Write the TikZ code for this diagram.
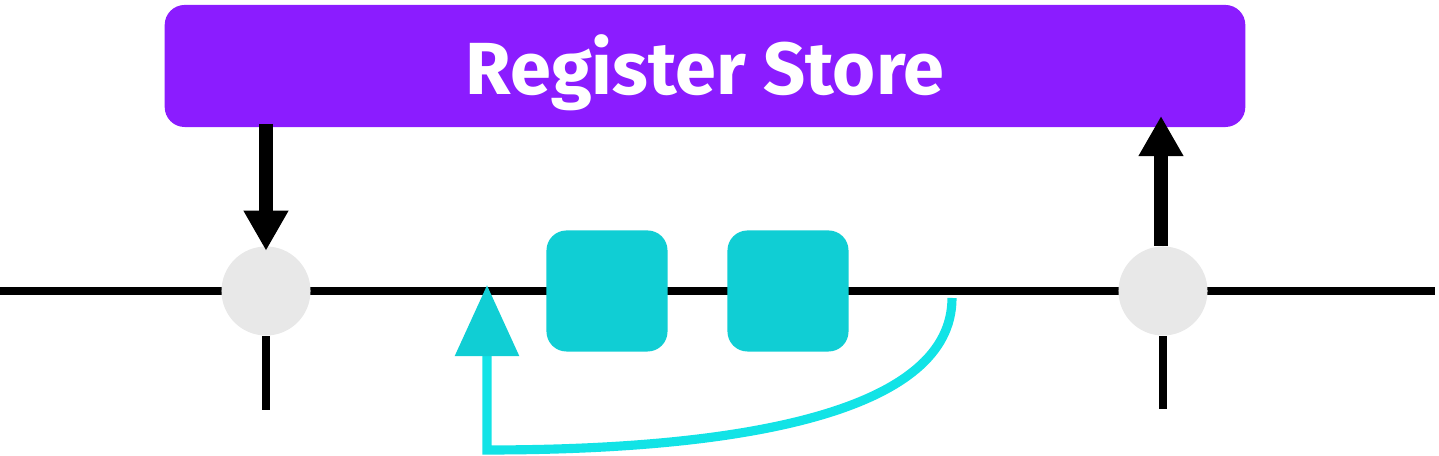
\documentclass[tikz,border=0pt]{standalone}
\usepackage{fontspec}
\setmainfont{Fira Sans}
\usepackage{tikz}
\usetikzlibrary{arrows.meta}
\definecolor{storepurple}{HTML}{8B1CFF}
\definecolor{regteal}{HTML}{10CED4}
\definecolor{loopcyan}{HTML}{12E3E6}
\definecolor{pointgrey}{HTML}{E8E8E8}
\tikzset{
  point/.style={circle,fill=pointgrey,minimum size=0.89cm,inner sep=0pt},
  reg/.style={rounded corners=0.2cm,fill=regteal,minimum size=1.21cm,inner sep=0pt},
  bigarrow/.style={line width=4.2pt,-{Triangle[width=0.42cm,length=0.4cm]}},
}
\begin{document}
\begin{tikzpicture}[x=0.01cm,y=-0.01cm]
\useasboundingbox (0,0) rectangle (1439,456);
\node[fill=storepurple,rounded corners=0.2cm,minimum width=10.8cm,minimum height=1.22cm,text=white,
  text height=0.57cm,text depth=0cm,
  font=\bfseries\fontsize{21}{25}\selectfont] (store) at (705,66) {Register Store};

\coordinate (west) at (0,291);
\coordinate (east) at (1435,291);
\draw[line width=2pt] (west) -- (east);

\node[point] (lp) at (266,291) {};
\node[point] (rp) at (1163,291) {};
\coordinate (lend) at (266,410);
\coordinate (rend) at (1163,409);
\draw[line width=2pt] (lp.south) -- (lend);
\draw[line width=2pt] (rp.south) -- (rend);

\node[reg] (r1) at (607,291) {};
\node[reg] (r2) at (788,291) {};

\draw[bigarrow,shorten >=-0.05cm] (266,124) -- (lp.north);
\coordinate (wb) at (1161,116);
\draw[bigarrow] (rp.north -| wb) -- (wb);

% loop back
\coordinate (lstart) at (952,298);
\coordinate (ltip) at (487,285);
\draw[loopcyan,line width=2.6pt,-{Triangle[width=0.62cm,length=0.71cm,color=regteal]}]
  (lstart) .. controls (952,410) and (750,450) .. (487,450) -- (ltip);
\end{tikzpicture}
\end{document}
